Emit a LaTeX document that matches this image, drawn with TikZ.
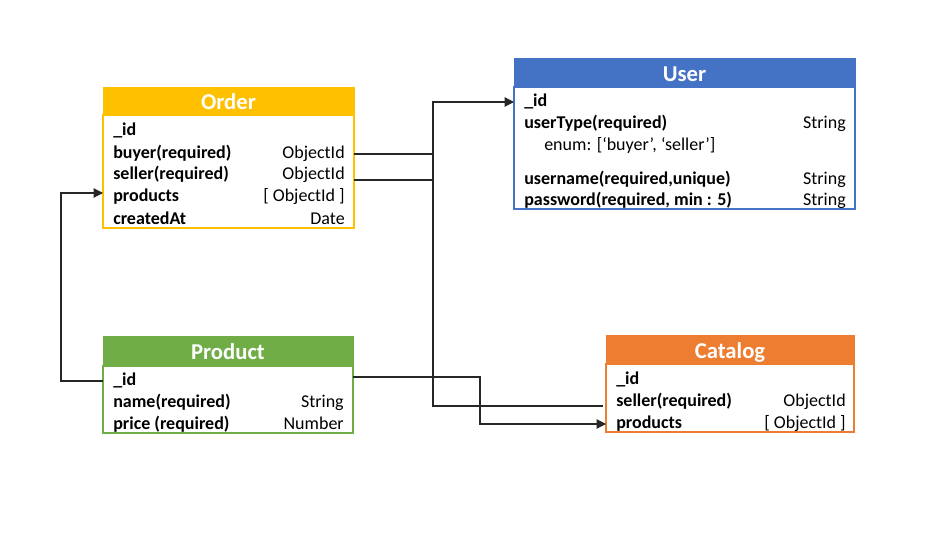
\documentclass[tikz,border=0pt]{standalone}
\usepackage{fontspec}
\setmainfont{Carlito}
\usetikzlibrary{arrows.meta}

\definecolor{ordergold}{HTML}{FFC000}
\definecolor{userblue}{HTML}{4472C4}
\definecolor{prodgreen}{HTML}{70AD47}
\definecolor{catorange}{HTML}{ED7D31}

\begin{document}
\begin{tikzpicture}[x=0.75pt, y=-0.75pt,
  head/.style={fill=#1, draw=#1, text=white, anchor=north west, inner sep=0pt, outer sep=0pt,
    text height=13pt, text depth=0pt, font=\fontsize{17}{20}\selectfont\bfseries},
  box/.style={draw=#1, fill=white, line width=1pt, anchor=north west, inner sep=0pt, outer sep=0pt},
  field/.style={anchor=west, inner sep=0pt, text height=9.5pt, text depth=3pt,
    font=\fontsize{13.5}{16}\selectfont\bfseries},
  kind/.style={field, anchor=east, font=\fontsize{13.5}{16}\selectfont},
  wire/.style={line width=0.9pt, black!85},
  link/.style={wire, -{Triangle[length=7pt, width=7pt]}}]

\useasboundingbox (0,0) rectangle (939,545);

% Order
\node [box=ordergold, minimum width=188.25pt, minimum height=84.75pt] (orderbox) at (103,115) {};
\node [head=ordergold, minimum width=188.25pt, minimum height=21pt] (orderhead) at (103,87) {Order};
\node [field] (order-id) at (113,131) {\_id};
\node [field] (order-buyer) at (113,154) {buyer(required)};
\node [kind] (order-buyer-t) at (345,154) {ObjectId};
\node [field] (order-seller) at (113,175) {seller(required)};
\node [kind] (order-seller-t) at (345,175) {ObjectId};
\node [field] (order-products) at (113,197) {products};
\node [kind] (order-products-t) at (345,197) {[ ObjectId ]};
\node [field] (order-created) at (113,220) {createdAt};
\node [kind] (order-created-t) at (345,220) {Date};

% User
\node [box=userblue, minimum width=255.75pt, minimum height=91.5pt] (userbox) at (514,87) {};
\node [head=userblue, minimum width=255.75pt, minimum height=21.75pt] (userhead) at (514,58) {User};
\node [field] (user-id) at (524,102) {\_id};
\node [field] (user-type) at (524,124) {userType(required)};
\node [kind] (user-type-t) at (846,124) {String};
\node [kind, anchor=west] (user-enum) at (544,146) {enum: [‘buyer’, ‘seller’]};
\node [field] (user-name) at (524,180) {username(required,unique)};
\node [kind] (user-name-t) at (846,180) {String};
\node [field] (user-pass) at (524,201) {password(required, min : 5)};
\node [kind] (user-pass-t) at (846,201) {String};

% Product
\node [box=prodgreen, minimum width=187.5pt, minimum height=50.25pt] (prodbox) at (103,366) {};
\node [head=prodgreen, minimum width=187.5pt, minimum height=22.5pt] (prodhead) at (103,336) {Product};
\node [field] (prod-id) at (113,381) {\_id};
\node [field] (prod-name) at (113,403) {name(required)};
\node [kind] (prod-name-t) at (344,403) {String};
\node [field] (prod-price) at (113,425) {price (required)};
\node [kind] (prod-price-t) at (344,425) {Number};

% Catalog
\node [box=catorange, minimum width=186pt, minimum height=51pt] (catbox) at (606,364) {};
\node [head=catorange, minimum width=186pt, minimum height=21.75pt] (cathead) at (606,335) {Catalog};
\node [field] (cat-id) at (616,380) {\_id};
\node [field] (cat-seller) at (616,402) {seller(required)};
\node [kind] (cat-seller-t) at (846,402) {ObjectId};
\node [field] (cat-products) at (616,424) {products};
\node [kind] (cat-products-t) at (846,424) {[ ObjectId ]};

% connectors
\coordinate (bus) at (433,0);
\coordinate (drop) at (480,0);
\coordinate (loop) at (61,0);
\coordinate (busend) at ([xshift=-2pt]catbox.west |- cat-seller);

\draw [link] (orderbox.east |- order-buyer-t) -| (bus |- user-id) -- (userbox.west |- user-id);
\draw [wire] ([yshift=-3.75pt]orderbox.east |- order-seller-t) -- ([yshift=-3.75pt]bus |- order-seller-t);
\draw [wire] (bus |- user-id) -- ([yshift=-3pt]bus |- busend) -- ([yshift=-3pt]busend);
\draw [link] ([yshift=3pt]prodbox.east |- prod-id) -- ([yshift=3pt]drop |- prod-id) |- (catbox.west |- cat-products);
\draw [link] (prodbox.west |- prod-id) -- (loop |- prod-id) |- ([yshift=3pt]orderbox.west |- order-products);
\end{tikzpicture}
\end{document}
